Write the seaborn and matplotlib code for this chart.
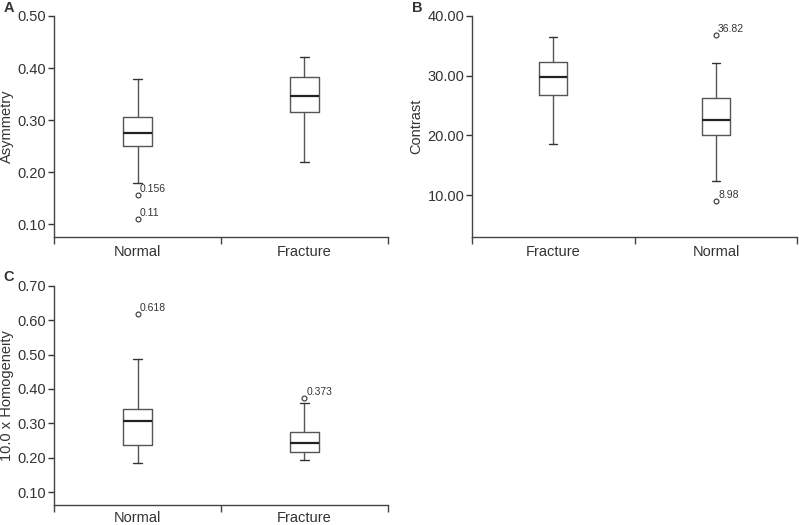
import matplotlib
matplotlib.use("Agg")
import matplotlib.pyplot as plt
from matplotlib.ticker import FormatStrFormatter, FixedLocator
import seaborn as sns

# panel A - asymmetry
a_groups = ["Normal", "Fracture"]
a_whislo = [0.180, 0.219]
a_q1 = [0.251, 0.315]
a_med = [0.275, 0.346]
a_q3 = [0.306, 0.383]
a_whishi = [0.380, 0.422]
a_fliers = [[0.156, 0.11], []]
a_yticks = [0.10, 0.20, 0.30, 0.40, 0.50]

# panel B - contrast
b_groups = ["Fracture", "Normal"]
b_whislo = [18.6, 12.4]
b_q1 = [26.7, 20.1]
b_med = [29.8, 22.5]
b_q3 = [32.35, 26.3]
b_whishi = [36.4, 32.2]
b_fliers = [[], [36.82, 8.98]]
b_yticks = [10.0, 20.0, 30.0, 40.0]

# panel C - homogeneity
c_groups = ["Normal", "Fracture"]
c_whislo = [0.184, 0.195]
c_q1 = [0.238, 0.218]
c_med = [0.306, 0.242]
c_q3 = [0.341, 0.276]
c_whishi = [0.486, 0.360]
c_fliers = [[0.618], [0.373]]
c_yticks = [0.10, 0.20, 0.30, 0.40, 0.50, 0.60, 0.70]

sns.set_theme(style="ticks")
plt.rcParams['font.family'] = ['Liberation Sans', 'DejaVu Sans']
txt = "#333333"
plt.rcParams.update({'text.color': txt, 'axes.labelcolor': txt,
                     'xtick.color': txt, 'ytick.color': txt,
                     'axes.edgecolor': '#444444', 'axes.linewidth': 1.0})


def draw_panel(ax, groups, lo, q1, med, q3, hi, fliers, ylabel, yticks, ylim, xpad=5.5):
    stats = []
    for i in range(len(groups)):
        stats.append(dict(label=groups[i], whislo=lo[i], q1=q1[i], med=med[i],
                          q3=q3[i], whishi=hi[i], fliers=fliers[i]))
    pos = list(range(len(groups)))
    ax.bxp(stats, positions=pos, widths=0.17, capwidths=0.05, patch_artist=False,
           boxprops=dict(color='#555555', lw=1.0),
           medianprops=dict(color='#222222', lw=1.6),
           whiskerprops=dict(color='#555555', lw=1.0),
           capprops=dict(color='#333333', lw=1.0),
           flierprops=dict(marker='o', markersize=3.5, markerfacecolor='none',
                           markeredgecolor='#333333', markeredgewidth=0.8))
    for p, fl in zip(pos, fliers):
        for v in fl:
            ax.annotate(f"{v:g}", (p, v), xytext=(1.5, 1.0), textcoords='offset points',
                        fontsize=7.5, ha='left', va='bottom', color=txt)
    ax.set_xlim(-0.5, len(groups) - 0.5)
    ax.set_ylim(*ylim)
    ax.set_xticks(pos)
    ax.set_xticklabels(groups, fontsize=10.5)
    ax.tick_params(axis='x', which='major', length=0, pad=xpad)
    ax.xaxis.set_minor_locator(FixedLocator([x - 0.5 for x in range(len(groups) + 1)]))
    ax.tick_params(axis='x', which='minor', length=5, width=1.0, color='#444444')
    ax.set_yticks(yticks)
    ax.yaxis.set_major_formatter(FormatStrFormatter('%.2f'))
    ax.tick_params(axis='y', length=4, width=1.0, labelsize=10.5, pad=1.5)
    ax.set_ylabel(ylabel, fontsize=10.5, labelpad=3)
    sns.despine(ax=ax)


fig = plt.figure(figsize=(7.99, 5.25), dpi=100)
ax_a = fig.add_axes([0.0676, 0.5486, 0.418, 0.421])
ax_b = fig.add_axes([0.5907, 0.5486, 0.4073, 0.421])
ax_c = fig.add_axes([0.0676, 0.0381, 0.418, 0.4177])

draw_panel(ax_a, a_groups, a_whislo, a_q1, a_med, a_q3, a_whishi, a_fliers,
           "Asymmetry", a_yticks, (0.076, 0.50))
draw_panel(ax_b, b_groups, b_whislo, b_q1, b_med, b_q3, b_whishi, b_fliers,
           "Contrast", b_yticks, (2.97, 40.0))
draw_panel(ax_c, c_groups, c_whislo, c_q1, c_med, c_q3, c_whishi, c_fliers,
           "10.0 x Homogeneity", c_yticks, (0.063, 0.70), xpad=4.0)

fig.text(0.004, 0.984, "A", fontsize=10.5, weight='bold', va='center', ha='left')
fig.text(0.516, 0.984, "B", fontsize=10.5, weight='bold', va='center', ha='left')
fig.text(0.004, 0.472, "C", fontsize=10.5, weight='bold', va='center', ha='left')

fig.savefig("out.png", dpi=100)
